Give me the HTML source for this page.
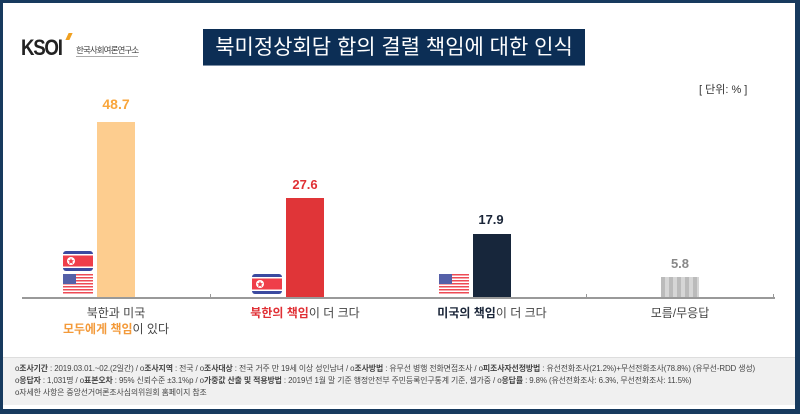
<!DOCTYPE html>
<html><head><meta charset="utf-8"><style>
*{margin:0;padding:0;box-sizing:border-box}
body{width:800px;height:414px;overflow:hidden;background:#fff;font-family:"Liberation Sans","Noto Sans CJK KR",sans-serif;position:relative}
.frame{position:absolute;left:0;top:0;width:800px;height:414px;border:3px solid #173a5e;border-right-width:5px;border-bottom-width:5px}
.abs{position:absolute}
.title{left:203px;top:29px;width:382px;height:37px;background:#0c2e55;color:#fff;font-size:21px;text-align:center;line-height:37px;border-bottom:1px solid #7d8fa5}
.val{position:absolute;font-weight:bold;font-size:13px;text-align:center;width:60px}
.bar{position:absolute;width:38px}
.lab{position:absolute;font-size:12px;color:#444;text-align:center;width:200px;line-height:16px}
.foot{left:3px;top:357px;width:792px;height:48px;background:#f0f0f0;border-top:1px solid #ddd;font-size:7.9px;color:#444;padding:5px 0 0 12px;line-height:12px;white-space:nowrap;letter-spacing:-0.1px}
.foot b{font-weight:bold}
</style></head><body>
<div class="frame"></div>
<div class="abs" style="left:21px;top:35px;font-size:22px;font-weight:bold;color:#222;letter-spacing:-1.5px;transform:scaleX(0.85);transform-origin:left">KSOI</div>
<div class="abs" style="left:67px;top:33px;width:4px;height:7px;background:#f0a020;transform:skewX(-25deg)"></div>
<div class="abs" style="left:76px;top:44px;width:62px;font-size:8.5px;color:#444;border-bottom:1px solid #aaa;white-space:nowrap;letter-spacing:-0.9px">한국사회여론연구소</div>
<div class="abs title">북미정상회담 합의 결렬 책임에 대한 인식</div>
<div class="abs" style="left:699px;top:81px;font-size:11px;color:#333">[ 단위: % ]</div>

<div class="val" style="left:86px;top:96px;color:#f9a63c;font-size:14px">48.7</div>
<div class="val" style="left:275px;top:177px;color:#e03035">27.6</div>
<div class="val" style="left:461px;top:212px;color:#1a2538">17.9</div>
<div class="val" style="left:650px;top:256px;color:#888">5.8</div>

<div class="bar" style="left:97px;top:122px;height:176px;background:#fdcd8f"></div>
<div class="bar" style="left:286px;top:198px;height:100px;background:#e03538"></div>
<div class="bar" style="left:473px;top:234px;height:64px;background:#17263b"></div>
<div class="bar" style="left:661px;top:277px;height:21px;background:repeating-linear-gradient(90deg,#bbb 0 4px,#d6d6d6 4px 8px)"></div>

<div class="abs" style="left:22px;top:297px;width:753px;height:2px;background:#999"></div>
<div class="abs" style="left:210px;top:294px;width:1px;height:4px;background:#999"></div>
<div class="abs" style="left:586px;top:294px;width:1px;height:4px;background:#999"></div>
<div class="abs" style="left:773px;top:294px;width:1px;height:4px;background:#999"></div>

<svg class="abs" style="left:0;top:0" width="800" height="414">
<defs>
<g id="nk"><rect x="0" y="0" width="30" height="20" rx="3" fill="#3b4aa0"/><rect x="0" y="3" width="30" height="14" fill="#fff"/><rect x="0" y="4.5" width="30" height="11" fill="#ef3e4a"/><circle cx="8" cy="10" r="4" fill="#fff"/><polygon points="8,7 8.9,9.2 11,9.3 9.4,10.7 9.9,13 8,11.7 6.1,13 6.6,10.7 5,9.3 7.1,9.2" fill="#ef3e4a"/></g>
<g id="us"><rect x="0" y="0" width="30" height="20" rx="3" fill="#fff"/>
<rect y="0" width="30" height="1.5" fill="#ee4b55"/><rect y="3" width="30" height="1.5" fill="#ee4b55"/><rect y="6" width="30" height="1.5" fill="#ee4b55"/><rect y="9" width="30" height="1.5" fill="#ee4b55"/><rect y="12" width="30" height="1.5" fill="#ee4b55"/><rect y="15" width="30" height="1.5" fill="#ee4b55"/><rect y="18" width="30" height="1.5" fill="#ee4b55"/>
<rect x="0" y="0" width="13" height="10" fill="#5560a8"/></g>
</defs>
<use href="#nk" x="63" y="251"/><use href="#us" x="63" y="274"/>
<use href="#nk" x="252" y="274"/>
<use href="#us" x="439" y="274"/>
</svg>

<div class="lab" style="left:16px;top:305px">북한과 미국<br><span style="color:#f39a3a;font-weight:bold">모두에게 책임</span>이 있다</div>
<div class="lab" style="left:205px;top:305px"><span style="color:#e03035;font-weight:bold">북한의 책임</span>이 더 크다</div>
<div class="lab" style="left:392px;top:305px"><span style="color:#1a2538;font-weight:bold">미국의 책임</span>이 더 크다</div>
<div class="lab" style="left:580px;top:305px">모름/무응답</div>

<div class="abs foot">ο<b>조사기간</b> : 2019.03.01.~02.(2일간) / ο<b>조사지역</b> : 전국 / ο<b>조사대상</b> : 전국 거주 만 19세 이상 성인남녀 / ο<b>조사방법</b> : 유무선 병행 전화면접조사 / ο<b>피조사자선정방법</b> : 유선전화조사(21.2%)+무선전화조사(78.8%) (유무선-RDD 생성)<br>ο<b>응답자</b> : 1,031명 / ο<b>표본오차</b> : 95% 신뢰수준 ±3.1%p / ο<b>가중값 산출 및 적용방법</b> : 2019년 1월 말 기준 행정안전부 주민등록인구통계 기준, 셀가중 / ο<b>응답률</b> : 9.8% (유선전화조사: 6.3%, 무선전화조사: 11.5%)<br>ο자세한 사항은 중앙선거여론조사심의위원회 홈페이지 참조</div>
</body></html>
